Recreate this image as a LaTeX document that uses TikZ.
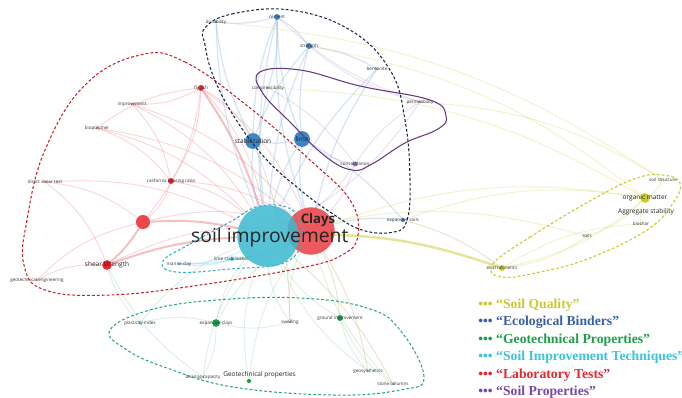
\documentclass[tikz,border=0pt]{standalone}
\usepackage{fontspec}
\newfontfamily\graphfont{Open Sans}
\newfontfamily\legfont{Liberation Serif}
\usetikzlibrary{backgrounds}

\definecolor{cQual}{HTML}{C9C92E}
\definecolor{cBind}{HTML}{3A5FA8}
\definecolor{cGeo}{HTML}{1E9E4A}
\definecolor{cTech}{HTML}{3EC3DC}
\definecolor{cLab}{HTML}{E8262E}
\definecolor{cProp}{HTML}{7A48A8}
\definecolor{cBlue}{HTML}{3D86C6}
\definecolor{cTan}{HTML}{C8A870}

\tikzset{
  kw/.style={circle,inner sep=0pt,draw=none,minimum size=1.6pt,fill=gray!70},
  lab/.style={font=\graphfont\fontsize{2.6}{3}\selectfont,text=black!80},
  labm/.style={font=\graphfont\fontsize{3.7}{4}\selectfont,text=black!85},
  edgeR/.style={draw=cLab!55,draw opacity=0.35,line width=0.5pt},
  edgeB/.style={draw=cBlue!60,draw opacity=0.35,line width=0.7pt},
  edgeP/.style={draw=cProp!55,draw opacity=0.3,line width=0.5pt},
  edgeY/.style={draw=cQual!80,draw opacity=0.3,line width=0.5pt},
  edgeG/.style={draw=cGeo!50,draw opacity=0.3,line width=0.5pt},
  edgeC/.style={draw=cTech!70,draw opacity=0.35,line width=0.6pt},
  edgeT/.style={draw=cTan,draw opacity=0.35,line width=0.5pt},
  hull/.style={dashed,line width=0.6pt,dash pattern=on 1.6pt off 1.2pt},
  leg/.style={anchor=west,inner sep=0pt,font=\legfont\bfseries\fontsize{7.8}{8}\selectfont}
}

\begin{document}
\begin{tikzpicture}[x=0.02cm,y=-0.02cm]
  \useasboundingbox (0,0) rectangle (682,397);

  % キーワード
  \node[kw,fill=cBlue,minimum size=3.4pt,label={[lab]center:cement}] (cement) at (277,17) {};
  \node[kw,fill=cBind!70,label={[lab]center:durability}] (durab) at (216,22) {};
  \node[kw,fill=cBlue,minimum size=3.4pt,label={[lab]center:strength}] (strength) at (309,46) {};
  \node[kw,fill=cBlue!60,label={[lab]center:bentonite}] (bentonite) at (377,69) {};
  \node[kw,fill=cBlue!60,label={[lab]center:compressibility}] (compress) at (268,88) {};
  \node[kw,fill=cProp!60,label={[lab]center:permeability}] (permeab) at (420,102) {};
  \node[kw,fill=cLab,minimum size=3.4pt,label={[lab]center:fly ash}] (flyash) at (201,88) {};
  \node[kw,fill=cLab!60,label={[lab]center:improvement}] (improve) at (132,104) {};
  \node[kw,fill=cLab!60,label={[lab]center:biopolymer}] (biopoly) at (97,128) {};
  \node[kw,fill=cBlue,minimum size=9pt,label={[labm]center:stabilization}] (stabil) at (253,141) {};
  \node[kw,fill=cBlue,minimum size=9pt,label={[labm]center:lime}] (lime) at (302,139) {};
  \node[kw,fill=cProp!80,minimum size=2.8pt,label={[lab]center:consolidation}] (consol) at (355,164) {};
  \node[kw,fill=cLab!60,label={[lab]center:direct shear test}] (dshear) at (45,182) {};
  \node[kw,fill=cLab,minimum size=3.4pt,label={[lab]center:california bearing ratio}] (cbr) at (171,181) {};
  \node[kw,fill=cLab!85,minimum size=8pt] (redhub) at (143,222) {};
  \node[kw,fill=cBlue,minimum size=2.4pt,label={[lab]center:expansive soils}] (expsoil) at (403,220) {};
  \node[kw,fill=cQual,minimum size=3.4pt,label={[lab]center:electrokinetics}] (electro) at (502,268) {};
  \node[kw,fill=cQual!60,label={[lab]center:soils}] (soils) at (587,236) {};
  \node[kw,fill=cQual!60,label={[lab]center:biochar}] (biochar) at (641,224) {};
  \node[kw,fill=cQual,minimum size=5.5pt,label={[labm]center:organic matter}] (organic) at (645,198) {};
  \node[kw,fill=cQual!60,label={[lab]center:soil structure}] (sstruct) at (663,180) {};
  \node[kw,fill=none,label={[labm]center:Aggregate stability}] (aggreg) at (646,212) {};
  \node[kw,fill=cLab,minimum size=5.5pt,label={[labm]center:shear strength}] (shear) at (107,265) {};
  \node[kw,fill=cLab!60,label={[lab]center:geotechnical engineering}] (geoeng) at (37,280) {};
  \node[kw,fill=cTech!80,label={[lab]center:marine clay}] (marine) at (179,264) {};
  \node[kw,fill=cTech!80,minimum size=2.4pt,label={[lab]center:lime stabilization}] (limestab) at (232,259) {};
  \node[kw,fill=cGeo!60,label={[lab]center:plasticity index}] (plastic) at (140,323) {};
  \node[kw,fill=cGeo,minimum size=4.4pt,label={[lab]center:expansive clays}] (expclay) at (216,323) {};
  \node[kw,fill=cGeo!60,label={[lab]center:swelling}] (swell) at (290,322) {};
  \node[kw,fill=cGeo,minimum size=3.4pt,label={[lab]center:ground improvement}] (groundimp) at (340,318) {};
  \node[kw,fill=cGeo,minimum size=2.4pt,label={[labm,yshift=3.5pt,xshift=6pt]center:Geotechnical properties}] (geoprop) at (249,381) {};
  \node[kw,fill=cGeo!60,label={[lab]center:bearing capacity}] (bearing) at (203,377) {};
  \node[kw,fill=cGeo!60,label={[lab]center:geosynthetics}] (geosyn) at (368,371) {};
  \node[kw,fill=cGeo!60,label={[lab]center:stone columns}] (stonecol) at (393,384) {};

  % 大きいノード
  \node[kw,fill=cLab!85!white,fill opacity=0.9,minimum size=27pt,
        label={[font=\graphfont\bfseries\fontsize{7.5}{8}\selectfont,text=black!85,xshift=4pt,yshift=6pt]center:Clays}] (clays) at (311,231) {};
  \node[kw,fill=cTech!95!black,fill opacity=0.85,minimum size=35pt,
        label={[font=\graphfont\fontsize{11}{12}\selectfont,text=black!85,xshift=1pt,yshift=-1pt]center:soil improvement}] (soilimp) at (268,236) {};

  % 連結線
  \begin{scope}[on background layer]
    \fill[white] (0,0) rectangle (682,397);
    \foreach \a/\b in {flyash/soilimp,flyash/clays,flyash/improve,flyash/cbr,flyash/redhub,
        improve/cbr,improve/clays,biopoly/cbr,biopoly/soilimp,biopoly/flyash,cbr/redhub,
        cbr/soilimp,cbr/clays,dshear/shear,dshear/soilimp,dshear/redhub,geoeng/shear,
        geoeng/redhub,shear/clays,redhub/clays,flyash/stabil,improve/soilimp,biopoly/clays}
      \draw[edgeR] (\a) to[bend left=15] (\b);
    \foreach \a/\b in {redhub/soilimp,redhub/shear,shear/soilimp,flyash/soilimp}
      \draw[edgeR,line width=1.1pt,draw opacity=0.55] (\a) to[bend left=8] (\b);
    \foreach \a/\b in {cement/stabil,cement/lime,cement/soilimp,cement/clays,strength/lime,
        strength/stabil,strength/soilimp,durab/stabil,durab/cement,durab/soilimp,stabil/lime,
        lime/soilimp,lime/clays,stabil/soilimp,compress/soilimp,bentonite/strength,
        bentonite/soilimp,bentonite/clays,expsoil/clays,expsoil/lime,compress/cement,strength/cement}
      \draw[edgeB] (\a) to[bend right=10] (\b);
    \foreach \a/\b in {consol/lime,consol/permeab,permeab/soilimp,consol/soilimp,
        permeab/cement,consol/clays,permeab/strength,compress/consol}
      \draw[edgeP] (\a) to[bend left=12] (\b);
    \foreach \a/\b in {electro/organic,electro/soils,soils/organic,organic/biochar,
        organic/sstruct,organic/clays,organic/expsoil,soils/soilimp,biochar/electro,
        sstruct/durab,organic/strength,sstruct/permeab,organic/compress}
      \draw[edgeY] (\a) to[bend right=14] (\b);
    \draw[edgeY,line width=1.4pt,draw opacity=0.6] (electro) to[bend right=10] (soilimp);
    \foreach \a/\b in {expclay/soilimp,plastic/soilimp,swell/clays,groundimp/soilimp,
        geosyn/soilimp,stonecol/clays,bearing/soilimp,geoprop/soilimp,expclay/bearing,
        stonecol/groundimp,plastic/expclay,swell/expclay,geosyn/groundimp,geoprop/clays,
        plastic/shear,bearing/shear,swell/soilimp,expclay/clays}
      \draw[edgeG] (\a) to[bend left=14] (\b);
    \foreach \a/\b in {marine/soilimp,limestab/soilimp,marine/limestab,limestab/clays,marine/clays}
      \draw[edgeC] (\a) to[bend right=12] (\b);
    \foreach \a/\b in {stonecol/soilimp,geosyn/clays,electro/expsoil,groundimp/clays,swell/stabil}
      \draw[edgeT] (\a) to[bend right=10] (\b);
  \end{scope}

  % クラスタ
  \draw[hull,draw=cLab!85!black] plot[smooth cycle,tension=0.7] coordinates {
    (140,55) (185,62) (250,108) (310,160) (350,200) (358,235) (342,255) (300,268)
    (200,285) (110,295) (45,290) (24,265) (27,220) (45,150) (85,85)};
  \draw[hull,draw=black!60!cBind] plot[smooth cycle,tension=0.7] coordinates {
    (205,28) (232,14) (290,10) (350,30) (390,70) (405,120) (410,180) (407,220)
    (394,232) (362,230) (330,212) (298,188) (265,158) (235,118) (214,78) (205,45)};
  \draw[hull,draw=cProp!80!black,dash pattern=] plot[smooth cycle,tension=0.7] coordinates {
    (260,72) (300,70) (360,86) (430,100) (446,116) (438,129) (405,143) (372,164)
    (352,170) (325,156) (290,122) (262,92)};
  \draw[hull,draw=cTech!90!black] plot[smooth cycle,tension=0.7] coordinates {
    (163,261) (190,244) (230,222) (260,206) (292,210) (302,236) (286,262) (230,269) (176,272)};
  \draw[hull,draw=cGeo!70!cTech] plot[smooth cycle,tension=0.7] coordinates {
    (110,330) (150,310) (217,300) (300,298) (367,308) (400,330) (424,377) (400,390)
    (333,395) (233,387) (167,368) (127,350)};
  \draw[hull,draw=cQual] plot[smooth cycle,tension=0.7] coordinates {
    (492,265) (530,237) (597,197) (637,178) (663,175) (680,183) (673,203) (647,230)
    (590,258) (540,272) (503,277)};

  % 凡例
  \node[leg,text=cQual] (legQ) at (478,305) {••• “Soil Quality”};
  \node[leg,text=cBind] (legB) at (478,322.5) {••• “Ecological Binders”};
  \node[leg,text=cGeo] (legG) at (478,340) {••• “Geotechnical Properties”};
  \node[leg,text=cTech] (legT) at (478,357.5) {••• “Soil Improvement Techniques”};
  \node[leg,text=cLab] (legL) at (478,375) {••• “Laboratory Tests”};
  \node[leg,text=cProp] (legP) at (478,392) {••• “Soil Properties”};
\end{tikzpicture}
\end{document}
